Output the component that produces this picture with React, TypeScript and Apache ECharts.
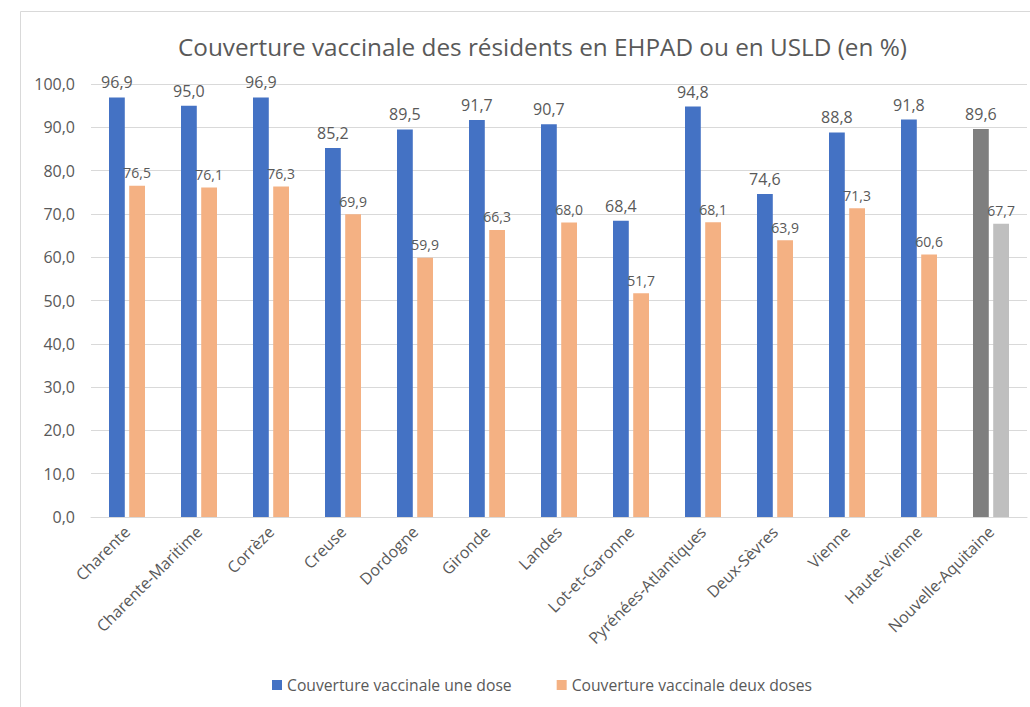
import React, { useEffect, useRef } from "react";
import * as echarts from "echarts";

const categories = [
  "Charente", "Charente-Maritime", "Corrèze", "Creuse", "Dordogne", "Gironde", "Landes",
  "Lot-et-Garonne", "Pyrénées-Atlantiques", "Deux-Sèvres", "Vienne", "Haute-Vienne", "Nouvelle-Aquitaine",
];
const uneDose = [96.9, 95.0, 96.9, 85.2, 89.5, 91.7, 90.7, 68.4, 94.8, 74.6, 88.8, 91.8, 89.6];
const deuxDoses = [76.5, 76.1, 76.3, 69.9, 59.9, 66.3, 68.0, 51.7, 68.1, 63.9, 71.3, 60.6, 67.7];
const seriesNames = ["Couverture vaccinale une dose", "Couverture vaccinale deux doses"];
const title = "Couverture vaccinale des résidents en EHPAD ou en USLD (en %)";

const FONT = "Open Sans";
const TXT = "#595959";
const fmt = (v: number) => v.toFixed(1).replace(".", ",");

export default function App() {
  const ref = useRef<HTMLDivElement>(null);
  useEffect(() => {
    if (!ref.current) return;
    const chart = echarts.init(ref.current, null, { renderer: "svg" });
    const last = categories.length - 1;
    chart.setOption({
      animation: false,
      backgroundColor: "#ffffff",
      textStyle: { fontFamily: FONT },
      title: {
        text: title,
        left: 173,
        top: 29,
        textStyle: { fontFamily: FONT, fontSize: 24.3, fontWeight: "normal", color: TXT },
      },
      graphic: [
        {
          type: "rect",
          shape: { x: 20.5, y: 11.5, width: 1030, height: 720 },
          style: { fill: "none", stroke: "#D9D9D9", lineWidth: 1 },
          silent: true,
        },
      ],
      legend: {
        top: 672,
        left: 267,
        itemWidth: 10,
        itemHeight: 10,
        itemGap: 45,
        icon: "rect",
        textStyle: { fontFamily: FONT, fontSize: 15.7, color: TXT },
        data: seriesNames,
      },
      grid: { left: 91, right: 3, top: 84, bottom: 190, containLabel: false },
      xAxis: {
        type: "category",
        data: categories,
        axisLine: { lineStyle: { color: "#D9D9D9" } },
        axisTick: { show: false },
        axisLabel: { rotate: 45, fontFamily: FONT, fontSize: 16, color: TXT, interval: 0, margin: 12 },
      },
      yAxis: {
        type: "value",
        min: 0,
        max: 100,
        interval: 10,
        axisLine: { show: false },
        axisTick: { show: false },
        splitLine: { lineStyle: { color: "#D9D9D9" } },
        axisLabel: { formatter: (v: number) => fmt(v), fontFamily: FONT, fontSize: 16, color: TXT, margin: 16 },
      },
      series: [
        {
          name: seriesNames[0],
          type: "bar",
          barGap: "28%",
          barCategoryGap: "50%",
          itemStyle: { color: "#4472C4" },
          label: {
            show: true,
            position: "top",
            distance: 7,
            fontFamily: FONT,
            fontSize: 16,
            color: TXT,
            formatter: (p: any) => fmt(p.value),
          },
          data: uneDose.map((v, i) => (i === last ? { value: v, itemStyle: { color: "#7F7F7F" } } : v)),
        },
        {
          name: seriesNames[1],
          type: "bar",
          itemStyle: { color: "#F4B183" },
          label: {
            show: true,
            position: "top",
            distance: 6,
            fontFamily: FONT,
            fontSize: 14,
            color: TXT,
            formatter: (p: any) => fmt(p.value),
          },
          data: deuxDoses.map((v, i) => (i === last ? { value: v, itemStyle: { color: "#BFBFBF" } } : v)),
        },
      ],
    });
    return () => chart.dispose();
  }, []);
  return <div ref={ref} style={{ position: "absolute", left: 0, top: 0, width: 1030, height: 707 }} />;
}
